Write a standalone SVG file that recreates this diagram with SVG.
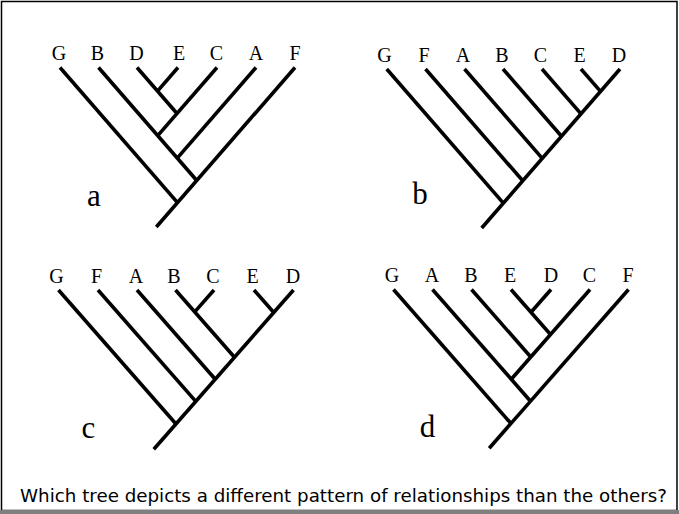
<svg xmlns="http://www.w3.org/2000/svg" width="679" height="514" viewBox="0 0 679 514">
  <style>
    .tip { font-family: "Liberation Serif", "Times New Roman", serif; font-size: 20px; text-anchor: middle; fill: #000; }
    .tag { font-family: "Liberation Serif", "Times New Roman", serif; font-size: 31px; text-anchor: middle; fill: #000; }
    .branch line { stroke: #000; stroke-width: 3.6; stroke-linecap: butt; }
    .question { font-family: "Comic Sans MS", "DejaVu Sans", sans-serif; font-size: 18px; fill: #000; }
  </style>

  <!-- page frame -->
  <rect x="0" y="0" width="679" height="514" fill="#fff"/>
  <rect x="1.5" y="1.5" width="675.5" height="509" fill="none" stroke="#000" stroke-width="1.5"/>
  <rect x="0" y="510" width="679" height="4" fill="#7f7f7f"/>

  <!-- tree a -->
  <g id="tree-a">
    <g id="a-G"><text class="tip" x="59" y="60">G</text></g>
    <g id="a-B"><text class="tip" x="97.5" y="60">B</text></g>
    <g id="a-D"><text class="tip" x="136.5" y="60">D</text></g>
    <g id="a-E"><text class="tip" x="179" y="60">E</text></g>
    <g id="a-C"><text class="tip" x="216.5" y="60">C</text></g>
    <g id="a-A"><text class="tip" x="256" y="60">A</text></g>
    <g id="a-F"><text class="tip" x="295" y="60">F</text></g>
    <g id="a-label"><text class="tag" x="94" y="206">a</text></g>
    <g id="a-branches" class="branch">
      <line x1="178" y1="67.5" x2="157.5" y2="91.1"/>
      <line x1="137" y1="67.5" x2="177" y2="113.5"/>
      <line x1="217" y1="67.5" x2="157.75" y2="135.6"/>
      <line x1="256" y1="67.5" x2="177.25" y2="158.1"/>
      <line x1="98.5" y1="67.5" x2="196.75" y2="180.5"/>
      <line x1="60" y1="67.5" x2="177.5" y2="202.6"/>
      <line x1="295" y1="67.5" x2="156.3" y2="227"/>
    </g>
  </g>

  <!-- tree b -->
  <g id="tree-b">
    <g id="b-G"><text class="tip" x="384.5" y="61.5">G</text></g>
    <g id="b-F"><text class="tip" x="424" y="61.5">F</text></g>
    <g id="b-A"><text class="tip" x="463" y="61.5">A</text></g>
    <g id="b-B"><text class="tip" x="502" y="61.5">B</text></g>
    <g id="b-C"><text class="tip" x="540.5" y="61.5">C</text></g>
    <g id="b-E"><text class="tip" x="579.5" y="61.5">E</text></g>
    <g id="b-D"><text class="tip" x="619" y="61.5">D</text></g>
    <g id="b-label"><text class="tag" x="420" y="203.5">b</text></g>
    <g id="b-branches" class="branch">
      <line x1="581" y1="69" x2="600.5" y2="91.4"/>
      <line x1="542" y1="69" x2="581" y2="113.9"/>
      <line x1="503" y1="69" x2="561.5" y2="136.3"/>
      <line x1="464.5" y1="69" x2="542.25" y2="158.4"/>
      <line x1="425.5" y1="69" x2="522.75" y2="180.8"/>
      <line x1="386.7" y1="69" x2="503.35" y2="203.1"/>
      <line x1="620" y1="69" x2="481.7" y2="228"/>
    </g>
  </g>

  <!-- tree c -->
  <g id="tree-c">
    <g id="c-G"><text class="tip" x="56.5" y="282.5">G</text></g>
    <g id="c-F"><text class="tip" x="96.5" y="282.5">F</text></g>
    <g id="c-A"><text class="tip" x="136" y="282.5">A</text></g>
    <g id="c-B"><text class="tip" x="174" y="282.5">B</text></g>
    <g id="c-C"><text class="tip" x="213" y="282.5">C</text></g>
    <g id="c-E"><text class="tip" x="252.5" y="282.5">E</text></g>
    <g id="c-D"><text class="tip" x="293" y="282.5">D</text></g>
    <g id="c-label"><text class="tag" x="88.5" y="438">c</text></g>
    <g id="c-branches" class="branch">
      <line x1="214" y1="290" x2="194.75" y2="311.9"/>
      <line x1="254" y1="290" x2="273.75" y2="312.5"/>
      <line x1="175.5" y1="290" x2="234.5" y2="357.3"/>
      <line x1="137" y1="290" x2="215.25" y2="379.2"/>
      <line x1="98" y1="290" x2="195.75" y2="401.4"/>
      <line x1="58.5" y1="290" x2="176" y2="424"/>
      <line x1="293.5" y1="290" x2="153.8" y2="449.3"/>
    </g>
  </g>

  <!-- tree d -->
  <g id="tree-d">
    <g id="d-G"><text class="tip" x="392" y="281.7">G</text></g>
    <g id="d-A"><text class="tip" x="432" y="281.7">A</text></g>
    <g id="d-B"><text class="tip" x="471" y="281.7">B</text></g>
    <g id="d-E"><text class="tip" x="510" y="281.7">E</text></g>
    <g id="d-D"><text class="tip" x="551" y="281.7">D</text></g>
    <g id="d-C"><text class="tip" x="589.5" y="281.7">C</text></g>
    <g id="d-F"><text class="tip" x="628" y="281.7">F</text></g>
    <g id="d-label"><text class="tag" x="427.5" y="437">d</text></g>
    <g id="d-branches" class="branch">
      <line x1="551" y1="289.5" x2="531" y2="312.3"/>
      <line x1="511" y1="289.5" x2="550.5" y2="334.5"/>
      <line x1="471.5" y1="289.5" x2="530.75" y2="357"/>
      <line x1="590" y1="289.5" x2="511.25" y2="379.3"/>
      <line x1="432.5" y1="289.5" x2="530.5" y2="401.2"/>
      <line x1="393.5" y1="289.5" x2="511" y2="423.5"/>
      <line x1="628.5" y1="289.5" x2="489.2" y2="448.3"/>
    </g>
  </g>

  <!-- question -->
  <text class="question" x="20" y="501.5" textLength="647" lengthAdjust="spacingAndGlyphs">Which tree depicts a different pattern of relationships than the others?</text>
</svg>
